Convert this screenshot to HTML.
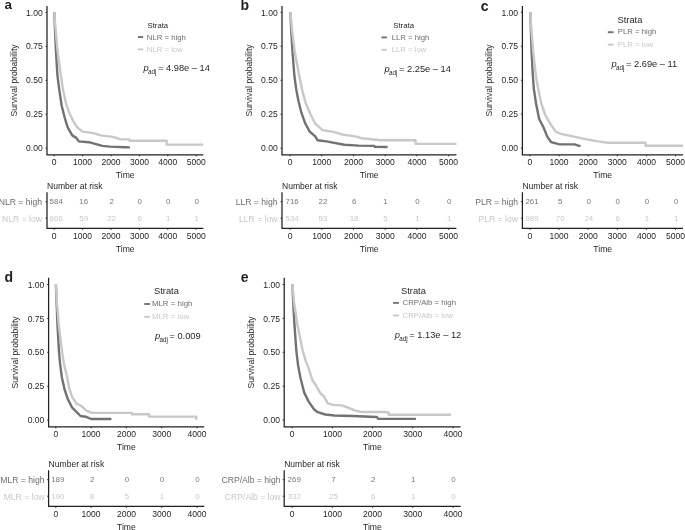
<!DOCTYPE html>
<html><head><meta charset="utf-8"><title>Survival curves</title>
<style>
html,body{margin:0;padding:0;background:#fff;}
svg{display:block;will-change:transform;filter:blur(0.4px);}
text{font-family:"Liberation Sans",sans-serif;}
</style></head><body>
<svg width="685" height="530" viewBox="0 0 685 530">
<rect x="0" y="0" width="685" height="530" fill="#ffffff"/>
<g><!-- panel a -->
<text x="4.4" y="9.2" font-size="13.4" font-weight="bold" fill="#231f20">a</text>
<polyline points="54.3,12.3 55.0,30.0 56.0,52.0 57.4,75.0 59.3,90.1 61.6,105.2 64.6,117.3 67.6,127.1 72.2,135.4 75.9,137.6 79.0,141.4 88.8,142.2 102.4,145.9 110.0,146.6 125.0,147.2 129.9,147.4" fill="none" stroke="#717275" stroke-width="2.4" stroke-linejoin="round" stroke-linecap="butt"/>
<polyline points="54.3,12.3 55.6,30.0 57.7,52.0 60.8,75.0 63.1,90.1 66.1,103.7 69.2,112.7 73.7,121.8 77.5,127.8 82.7,131.6 93.3,133.1 100.8,135.4 112.9,136.9 120.0,139.2 129.5,139.4 129.5,140.7 166.7,140.7 166.7,144.6 203.2,144.6" fill="none" stroke="#c7c8ca" stroke-width="2.4" stroke-linejoin="round" stroke-linecap="butt"/>
<path d="M47.0,6.0 V154.9 H203.3" fill="none" stroke="#231f20" stroke-width="1.25" stroke-linecap="butt" stroke-linejoin="miter"/>
<line x1="45.5" y1="12.4" x2="47.0" y2="12.4" stroke="#231f20" stroke-width="0.9"/>
<text x="42.7" y="15.5" font-size="8.55" text-anchor="end" fill="#231f20">1.00</text>
<line x1="45.5" y1="46.3" x2="47.0" y2="46.3" stroke="#231f20" stroke-width="0.9"/>
<text x="42.7" y="49.4" font-size="8.55" text-anchor="end" fill="#231f20">0.75</text>
<line x1="45.5" y1="80.3" x2="47.0" y2="80.3" stroke="#231f20" stroke-width="0.9"/>
<text x="42.7" y="83.4" font-size="8.55" text-anchor="end" fill="#231f20">0.50</text>
<line x1="45.5" y1="114.2" x2="47.0" y2="114.2" stroke="#231f20" stroke-width="0.9"/>
<text x="42.7" y="117.3" font-size="8.55" text-anchor="end" fill="#231f20">0.25</text>
<line x1="45.5" y1="148.2" x2="47.0" y2="148.2" stroke="#231f20" stroke-width="0.9"/>
<text x="42.7" y="151.3" font-size="8.55" text-anchor="end" fill="#231f20">0.00</text>
<line x1="54.2" y1="154.9" x2="54.2" y2="156.4" stroke="#231f20" stroke-width="0.9"/>
<text x="54.2" y="165.3" font-size="8.55" text-anchor="middle" fill="#231f20">0</text>
<line x1="82.6" y1="154.9" x2="82.6" y2="156.4" stroke="#231f20" stroke-width="0.9"/>
<text x="82.6" y="165.3" font-size="8.55" text-anchor="middle" fill="#231f20">1000</text>
<line x1="111.0" y1="154.9" x2="111.0" y2="156.4" stroke="#231f20" stroke-width="0.9"/>
<text x="111.0" y="165.3" font-size="8.55" text-anchor="middle" fill="#231f20">2000</text>
<line x1="139.4" y1="154.9" x2="139.4" y2="156.4" stroke="#231f20" stroke-width="0.9"/>
<text x="139.4" y="165.3" font-size="8.55" text-anchor="middle" fill="#231f20">3000</text>
<line x1="167.8" y1="154.9" x2="167.8" y2="156.4" stroke="#231f20" stroke-width="0.9"/>
<text x="167.8" y="165.3" font-size="8.55" text-anchor="middle" fill="#231f20">4000</text>
<line x1="196.2" y1="154.9" x2="196.2" y2="156.4" stroke="#231f20" stroke-width="0.9"/>
<text x="196.2" y="165.3" font-size="8.55" text-anchor="middle" fill="#231f20">5000</text>
<text x="125.2" y="178.2" font-size="8.6" text-anchor="middle" fill="#231f20">Time</text>
<text transform="translate(16.7,80.5) rotate(-90)" font-size="8.6" text-anchor="middle" fill="#231f20">Survival probability</text>
<text x="147.5" y="27.8" font-size="7.75" fill="#231f20">Strata</text>
<line x1="138.0" y1="37.0" x2="143.2" y2="37.0" stroke="#717275" stroke-width="1.9"/>
<line x1="138.0" y1="49.4" x2="143.2" y2="49.4" stroke="#c7c8ca" stroke-width="1.9"/>
<text x="146.8" y="39.6" font-size="7.75" fill="#6d6e71">NLR = high</text>
<text x="146.8" y="51.6" font-size="7.75" fill="#c7c8ca">NLR = low</text>
<text x="143.5" y="71.3" font-size="9.3" fill="#231f20"><tspan font-style="italic">p</tspan><tspan font-size="6.3" dy="2.9" dx="-0.6">adj</tspan><tspan dy="-2.9" dx="1.5">= 4.98e – 14</tspan></text>
<text x="47.0" y="188.9" font-size="8.55" fill="#231f20">Number at risk</text>
<path d="M47.0,192.3 V228.4 H203.3" fill="none" stroke="#231f20" stroke-width="1.25" stroke-linecap="butt" stroke-linejoin="miter"/>
<line x1="45.5" y1="201.7" x2="47.0" y2="201.7" stroke="#231f20" stroke-width="0.9"/>
<text x="42.0" y="205.0" font-size="8.6" text-anchor="end" fill="#6d6e71">NLR = high</text>
<text x="56.2" y="204.4" font-size="7.9" text-anchor="middle" fill="#77787b">584</text>
<text x="83.7" y="204.4" font-size="7.9" text-anchor="middle" fill="#77787b">16</text>
<text x="111.6" y="204.4" font-size="7.9" text-anchor="middle" fill="#77787b">2</text>
<text x="139.7" y="204.4" font-size="7.9" text-anchor="middle" fill="#77787b">0</text>
<text x="168.3" y="204.4" font-size="7.9" text-anchor="middle" fill="#77787b">0</text>
<text x="196.8" y="204.4" font-size="7.9" text-anchor="middle" fill="#77787b">0</text>
<line x1="45.5" y1="218.2" x2="47.0" y2="218.2" stroke="#231f20" stroke-width="0.9"/>
<text x="42.0" y="221.5" font-size="8.6" text-anchor="end" fill="#c7c8ca">NLR = low</text>
<text x="56.2" y="220.9" font-size="7.9" text-anchor="middle" fill="#c7c8ca">666</text>
<text x="83.7" y="220.9" font-size="7.9" text-anchor="middle" fill="#c7c8ca">59</text>
<text x="111.6" y="220.9" font-size="7.9" text-anchor="middle" fill="#c7c8ca">22</text>
<text x="139.7" y="220.9" font-size="7.9" text-anchor="middle" fill="#c7c8ca">6</text>
<text x="168.3" y="220.9" font-size="7.9" text-anchor="middle" fill="#c7c8ca">1</text>
<text x="196.8" y="220.9" font-size="7.9" text-anchor="middle" fill="#c7c8ca">1</text>
<line x1="54.2" y1="228.4" x2="54.2" y2="229.9" stroke="#231f20" stroke-width="0.9"/>
<text x="54.2" y="239.3" font-size="8.55" text-anchor="middle" fill="#231f20">0</text>
<line x1="82.6" y1="228.4" x2="82.6" y2="229.9" stroke="#231f20" stroke-width="0.9"/>
<text x="82.6" y="239.3" font-size="8.55" text-anchor="middle" fill="#231f20">1000</text>
<line x1="111.0" y1="228.4" x2="111.0" y2="229.9" stroke="#231f20" stroke-width="0.9"/>
<text x="111.0" y="239.3" font-size="8.55" text-anchor="middle" fill="#231f20">2000</text>
<line x1="139.4" y1="228.4" x2="139.4" y2="229.9" stroke="#231f20" stroke-width="0.9"/>
<text x="139.4" y="239.3" font-size="8.55" text-anchor="middle" fill="#231f20">3000</text>
<line x1="167.8" y1="228.4" x2="167.8" y2="229.9" stroke="#231f20" stroke-width="0.9"/>
<text x="167.8" y="239.3" font-size="8.55" text-anchor="middle" fill="#231f20">4000</text>
<line x1="196.2" y1="228.4" x2="196.2" y2="229.9" stroke="#231f20" stroke-width="0.9"/>
<text x="196.2" y="239.3" font-size="8.55" text-anchor="middle" fill="#231f20">5000</text>
<text x="125.2" y="251.8" font-size="8.6" text-anchor="middle" fill="#231f20">Time</text>
</g>
<g><!-- panel b -->
<text x="240.6" y="9.6" font-size="14" font-weight="bold" fill="#231f20">b</text>
<polyline points="290.4,12.0 291.2,30.0 292.5,52.0 294.3,75.0 296.1,88.6 298.4,100.7 301.4,112.7 305.2,123.3 309.7,131.6 315.0,136.1 317.5,140.2 326.3,141.4 344.4,144.7 358.8,145.6 374.2,145.9 374.8,146.9 387.6,147.0" fill="none" stroke="#717275" stroke-width="2.4" stroke-linejoin="round" stroke-linecap="butt"/>
<polyline points="290.4,12.0 292.0,30.0 294.8,52.0 299.1,75.0 302.2,90.1 305.9,103.7 310.5,114.2 315.0,123.3 322.5,130.1 332.3,131.6 342.9,134.6 358.0,136.9 361.5,138.3 381.0,140.3 415.6,140.3 415.6,143.9 456.4,143.9" fill="none" stroke="#c7c8ca" stroke-width="2.4" stroke-linejoin="round" stroke-linecap="butt"/>
<path d="M282.0,6.0 V154.9 H456.4" fill="none" stroke="#231f20" stroke-width="1.25" stroke-linecap="butt" stroke-linejoin="miter"/>
<line x1="280.5" y1="12.4" x2="282.0" y2="12.4" stroke="#231f20" stroke-width="0.9"/>
<text x="277.7" y="15.5" font-size="8.55" text-anchor="end" fill="#231f20">1.00</text>
<line x1="280.5" y1="46.3" x2="282.0" y2="46.3" stroke="#231f20" stroke-width="0.9"/>
<text x="277.7" y="49.4" font-size="8.55" text-anchor="end" fill="#231f20">0.75</text>
<line x1="280.5" y1="80.3" x2="282.0" y2="80.3" stroke="#231f20" stroke-width="0.9"/>
<text x="277.7" y="83.4" font-size="8.55" text-anchor="end" fill="#231f20">0.50</text>
<line x1="280.5" y1="114.2" x2="282.0" y2="114.2" stroke="#231f20" stroke-width="0.9"/>
<text x="277.7" y="117.3" font-size="8.55" text-anchor="end" fill="#231f20">0.25</text>
<line x1="280.5" y1="148.2" x2="282.0" y2="148.2" stroke="#231f20" stroke-width="0.9"/>
<text x="277.7" y="151.3" font-size="8.55" text-anchor="end" fill="#231f20">0.00</text>
<line x1="290.1" y1="154.9" x2="290.1" y2="156.4" stroke="#231f20" stroke-width="0.9"/>
<text x="290.1" y="165.3" font-size="8.55" text-anchor="middle" fill="#231f20">0</text>
<line x1="321.8" y1="154.9" x2="321.8" y2="156.4" stroke="#231f20" stroke-width="0.9"/>
<text x="321.8" y="165.3" font-size="8.55" text-anchor="middle" fill="#231f20">1000</text>
<line x1="353.5" y1="154.9" x2="353.5" y2="156.4" stroke="#231f20" stroke-width="0.9"/>
<text x="353.5" y="165.3" font-size="8.55" text-anchor="middle" fill="#231f20">2000</text>
<line x1="385.2" y1="154.9" x2="385.2" y2="156.4" stroke="#231f20" stroke-width="0.9"/>
<text x="385.2" y="165.3" font-size="8.55" text-anchor="middle" fill="#231f20">3000</text>
<line x1="416.9" y1="154.9" x2="416.9" y2="156.4" stroke="#231f20" stroke-width="0.9"/>
<text x="416.9" y="165.3" font-size="8.55" text-anchor="middle" fill="#231f20">4000</text>
<line x1="448.6" y1="154.9" x2="448.6" y2="156.4" stroke="#231f20" stroke-width="0.9"/>
<text x="448.6" y="165.3" font-size="8.55" text-anchor="middle" fill="#231f20">5000</text>
<text x="369.2" y="178.2" font-size="8.6" text-anchor="middle" fill="#231f20">Time</text>
<text transform="translate(251.7,80.5) rotate(-90)" font-size="8.6" text-anchor="middle" fill="#231f20">Survival probability</text>
<text x="393.3" y="28.2" font-size="7.75" fill="#231f20">Strata</text>
<line x1="381.5" y1="37.4" x2="386.9" y2="37.4" stroke="#717275" stroke-width="1.9"/>
<line x1="381.5" y1="49.8" x2="386.9" y2="49.8" stroke="#c7c8ca" stroke-width="1.9"/>
<text x="391.7" y="39.9" font-size="7.75" fill="#6d6e71">LLR = high</text>
<text x="391.7" y="51.9" font-size="7.75" fill="#c7c8ca">LLR = low</text>
<text x="384.5" y="72.0" font-size="9.3" fill="#231f20"><tspan font-style="italic">p</tspan><tspan font-size="6.3" dy="2.9" dx="-0.6">adj</tspan><tspan dy="-2.9" dx="1.5">= 2.25e – 14</tspan></text>
<text x="282.0" y="188.9" font-size="8.55" fill="#231f20">Number at risk</text>
<path d="M282.0,192.3 V228.4 H456.4" fill="none" stroke="#231f20" stroke-width="1.25" stroke-linecap="butt" stroke-linejoin="miter"/>
<line x1="280.5" y1="201.7" x2="282.0" y2="201.7" stroke="#231f20" stroke-width="0.9"/>
<text x="277.5" y="205.0" font-size="8.6" text-anchor="end" fill="#6d6e71">LLR = high</text>
<text x="292.1" y="204.4" font-size="7.9" text-anchor="middle" fill="#77787b">716</text>
<text x="322.9" y="204.4" font-size="7.9" text-anchor="middle" fill="#77787b">22</text>
<text x="354.1" y="204.4" font-size="7.9" text-anchor="middle" fill="#77787b">6</text>
<text x="385.5" y="204.4" font-size="7.9" text-anchor="middle" fill="#77787b">1</text>
<text x="417.4" y="204.4" font-size="7.9" text-anchor="middle" fill="#77787b">0</text>
<text x="449.2" y="204.4" font-size="7.9" text-anchor="middle" fill="#77787b">0</text>
<line x1="280.5" y1="218.2" x2="282.0" y2="218.2" stroke="#231f20" stroke-width="0.9"/>
<text x="277.5" y="221.5" font-size="8.6" text-anchor="end" fill="#c7c8ca">LLR = low</text>
<text x="292.1" y="220.9" font-size="7.9" text-anchor="middle" fill="#c7c8ca">534</text>
<text x="322.9" y="220.9" font-size="7.9" text-anchor="middle" fill="#c7c8ca">53</text>
<text x="354.1" y="220.9" font-size="7.9" text-anchor="middle" fill="#c7c8ca">18</text>
<text x="385.5" y="220.9" font-size="7.9" text-anchor="middle" fill="#c7c8ca">5</text>
<text x="417.4" y="220.9" font-size="7.9" text-anchor="middle" fill="#c7c8ca">1</text>
<text x="449.2" y="220.9" font-size="7.9" text-anchor="middle" fill="#c7c8ca">1</text>
<line x1="290.1" y1="228.4" x2="290.1" y2="229.9" stroke="#231f20" stroke-width="0.9"/>
<text x="290.1" y="239.3" font-size="8.55" text-anchor="middle" fill="#231f20">0</text>
<line x1="321.8" y1="228.4" x2="321.8" y2="229.9" stroke="#231f20" stroke-width="0.9"/>
<text x="321.8" y="239.3" font-size="8.55" text-anchor="middle" fill="#231f20">1000</text>
<line x1="353.5" y1="228.4" x2="353.5" y2="229.9" stroke="#231f20" stroke-width="0.9"/>
<text x="353.5" y="239.3" font-size="8.55" text-anchor="middle" fill="#231f20">2000</text>
<line x1="385.2" y1="228.4" x2="385.2" y2="229.9" stroke="#231f20" stroke-width="0.9"/>
<text x="385.2" y="239.3" font-size="8.55" text-anchor="middle" fill="#231f20">3000</text>
<line x1="416.9" y1="228.4" x2="416.9" y2="229.9" stroke="#231f20" stroke-width="0.9"/>
<text x="416.9" y="239.3" font-size="8.55" text-anchor="middle" fill="#231f20">4000</text>
<line x1="448.6" y1="228.4" x2="448.6" y2="229.9" stroke="#231f20" stroke-width="0.9"/>
<text x="448.6" y="239.3" font-size="8.55" text-anchor="middle" fill="#231f20">5000</text>
<text x="369.2" y="251.8" font-size="8.6" text-anchor="middle" fill="#231f20">Time</text>
</g>
<g><!-- panel c -->
<text x="480.7" y="10.5" font-size="14" font-weight="bold" fill="#231f20">c</text>
<polyline points="530.4,12.0 530.9,30.0 531.6,52.0 532.8,75.0 533.8,88.6 536.1,103.7 539.1,118.8 543.7,127.8 547.4,136.9 551.2,142.2 559.5,144.4 574.6,144.4 579.9,146.2 580.2,146.7" fill="none" stroke="#717275" stroke-width="2.4" stroke-linejoin="round" stroke-linecap="butt"/>
<polyline points="530.4,12.0 531.4,30.0 533.2,52.0 535.8,75.0 538.4,90.1 541.4,103.7 545.2,115.0 550.5,124.1 555.7,131.6 561.0,133.9 578.4,137.6 588.9,139.8 598.0,141.4 608.0,142.7 645.6,142.6 645.6,145.7 683.0,145.7" fill="none" stroke="#c7c8ca" stroke-width="2.4" stroke-linejoin="round" stroke-linecap="butt"/>
<path d="M522.4,6.0 V154.9 H683.0" fill="none" stroke="#231f20" stroke-width="1.25" stroke-linecap="butt" stroke-linejoin="miter"/>
<line x1="520.9" y1="12.4" x2="522.4" y2="12.4" stroke="#231f20" stroke-width="0.9"/>
<text x="518.1" y="15.5" font-size="8.55" text-anchor="end" fill="#231f20">1.00</text>
<line x1="520.9" y1="46.3" x2="522.4" y2="46.3" stroke="#231f20" stroke-width="0.9"/>
<text x="518.1" y="49.4" font-size="8.55" text-anchor="end" fill="#231f20">0.75</text>
<line x1="520.9" y1="80.3" x2="522.4" y2="80.3" stroke="#231f20" stroke-width="0.9"/>
<text x="518.1" y="83.4" font-size="8.55" text-anchor="end" fill="#231f20">0.50</text>
<line x1="520.9" y1="114.2" x2="522.4" y2="114.2" stroke="#231f20" stroke-width="0.9"/>
<text x="518.1" y="117.3" font-size="8.55" text-anchor="end" fill="#231f20">0.25</text>
<line x1="520.9" y1="148.2" x2="522.4" y2="148.2" stroke="#231f20" stroke-width="0.9"/>
<text x="518.1" y="151.3" font-size="8.55" text-anchor="end" fill="#231f20">0.00</text>
<line x1="530.0" y1="154.9" x2="530.0" y2="156.4" stroke="#231f20" stroke-width="0.9"/>
<text x="530.0" y="165.3" font-size="8.55" text-anchor="middle" fill="#231f20">0</text>
<line x1="559.1" y1="154.9" x2="559.1" y2="156.4" stroke="#231f20" stroke-width="0.9"/>
<text x="559.1" y="165.3" font-size="8.55" text-anchor="middle" fill="#231f20">1000</text>
<line x1="588.2" y1="154.9" x2="588.2" y2="156.4" stroke="#231f20" stroke-width="0.9"/>
<text x="588.2" y="165.3" font-size="8.55" text-anchor="middle" fill="#231f20">2000</text>
<line x1="617.3" y1="154.9" x2="617.3" y2="156.4" stroke="#231f20" stroke-width="0.9"/>
<text x="617.3" y="165.3" font-size="8.55" text-anchor="middle" fill="#231f20">3000</text>
<line x1="646.4" y1="154.9" x2="646.4" y2="156.4" stroke="#231f20" stroke-width="0.9"/>
<text x="646.4" y="165.3" font-size="8.55" text-anchor="middle" fill="#231f20">4000</text>
<line x1="675.5" y1="154.9" x2="675.5" y2="156.4" stroke="#231f20" stroke-width="0.9"/>
<text x="675.5" y="165.3" font-size="8.55" text-anchor="middle" fill="#231f20">5000</text>
<text x="602.7" y="178.2" font-size="8.6" text-anchor="middle" fill="#231f20">Time</text>
<text transform="translate(492.1,80.5) rotate(-90)" font-size="8.6" text-anchor="middle" fill="#231f20">Survival probability</text>
<text x="617.5" y="22.8" font-size="9.3" fill="#231f20">Strata</text>
<line x1="607.8" y1="32.2" x2="613.6" y2="32.2" stroke="#717275" stroke-width="1.9"/>
<line x1="607.8" y1="44.6" x2="613.6" y2="44.6" stroke="#c7c8ca" stroke-width="1.9"/>
<text x="617.8" y="34.3" font-size="7.75" fill="#6d6e71">PLR = high</text>
<text x="617.8" y="47.4" font-size="7.75" fill="#c7c8ca">PLR = low</text>
<text x="611.5" y="67.0" font-size="9.3" fill="#231f20"><tspan font-style="italic">p</tspan><tspan font-size="6.3" dy="2.9" dx="-0.6">adj</tspan><tspan dy="-2.9" dx="1.5">= 2.69e – 11</tspan></text>
<text x="522.4" y="188.9" font-size="8.55" fill="#231f20">Number at risk</text>
<path d="M522.4,192.3 V228.4 H683.0" fill="none" stroke="#231f20" stroke-width="1.25" stroke-linecap="butt" stroke-linejoin="miter"/>
<line x1="520.9" y1="201.7" x2="522.4" y2="201.7" stroke="#231f20" stroke-width="0.9"/>
<text x="518.0" y="205.0" font-size="8.6" text-anchor="end" fill="#6d6e71">PLR = high</text>
<text x="532.0" y="204.4" font-size="7.9" text-anchor="middle" fill="#77787b">261</text>
<text x="560.2" y="204.4" font-size="7.9" text-anchor="middle" fill="#77787b">5</text>
<text x="588.8" y="204.4" font-size="7.9" text-anchor="middle" fill="#77787b">0</text>
<text x="617.6" y="204.4" font-size="7.9" text-anchor="middle" fill="#77787b">0</text>
<text x="646.9" y="204.4" font-size="7.9" text-anchor="middle" fill="#77787b">0</text>
<text x="676.1" y="204.4" font-size="7.9" text-anchor="middle" fill="#77787b">0</text>
<line x1="520.9" y1="218.2" x2="522.4" y2="218.2" stroke="#231f20" stroke-width="0.9"/>
<text x="518.0" y="221.5" font-size="8.6" text-anchor="end" fill="#c7c8ca">PLR = low</text>
<text x="532.0" y="220.9" font-size="7.9" text-anchor="middle" fill="#c7c8ca">989</text>
<text x="560.2" y="220.9" font-size="7.9" text-anchor="middle" fill="#c7c8ca">70</text>
<text x="588.8" y="220.9" font-size="7.9" text-anchor="middle" fill="#c7c8ca">24</text>
<text x="617.6" y="220.9" font-size="7.9" text-anchor="middle" fill="#c7c8ca">6</text>
<text x="646.9" y="220.9" font-size="7.9" text-anchor="middle" fill="#c7c8ca">1</text>
<text x="676.1" y="220.9" font-size="7.9" text-anchor="middle" fill="#c7c8ca">1</text>
<line x1="530.0" y1="228.4" x2="530.0" y2="229.9" stroke="#231f20" stroke-width="0.9"/>
<text x="530.0" y="239.3" font-size="8.55" text-anchor="middle" fill="#231f20">0</text>
<line x1="559.1" y1="228.4" x2="559.1" y2="229.9" stroke="#231f20" stroke-width="0.9"/>
<text x="559.1" y="239.3" font-size="8.55" text-anchor="middle" fill="#231f20">1000</text>
<line x1="588.2" y1="228.4" x2="588.2" y2="229.9" stroke="#231f20" stroke-width="0.9"/>
<text x="588.2" y="239.3" font-size="8.55" text-anchor="middle" fill="#231f20">2000</text>
<line x1="617.3" y1="228.4" x2="617.3" y2="229.9" stroke="#231f20" stroke-width="0.9"/>
<text x="617.3" y="239.3" font-size="8.55" text-anchor="middle" fill="#231f20">3000</text>
<line x1="646.4" y1="228.4" x2="646.4" y2="229.9" stroke="#231f20" stroke-width="0.9"/>
<text x="646.4" y="239.3" font-size="8.55" text-anchor="middle" fill="#231f20">4000</text>
<line x1="675.5" y1="228.4" x2="675.5" y2="229.9" stroke="#231f20" stroke-width="0.9"/>
<text x="675.5" y="239.3" font-size="8.55" text-anchor="middle" fill="#231f20">5000</text>
<text x="602.7" y="251.8" font-size="8.6" text-anchor="middle" fill="#231f20">Time</text>
</g>
<g><!-- panel d -->
<text x="4.6" y="281.6" font-size="14" font-weight="bold" fill="#231f20">d</text>
<polyline points="55.9,284.5 56.6,302.3 57.5,325.3 58.9,350.3 60.1,363.9 61.9,377.5 64.6,389.5 67.6,398.6 72.2,407.7 76.7,412.2 80.5,416.0 85.8,416.7 91.0,419.0 111.4,419.0" fill="none" stroke="#717275" stroke-width="2.4" stroke-linejoin="round" stroke-linecap="butt"/>
<polyline points="55.9,284.5 57.0,302.3 58.8,325.3 61.9,350.3 63.9,363.9 66.9,376.0 69.2,388.0 72.2,397.1 76.7,403.9 80.5,405.4 86.5,410.7 91.8,412.9 132.0,412.9 132.0,414.2 149.0,414.2 149.0,416.6 196.3,416.6 196.3,419.7" fill="none" stroke="#c7c8ca" stroke-width="2.4" stroke-linejoin="round" stroke-linecap="butt"/>
<path d="M48.6,277.8 V426.9 H204.2" fill="none" stroke="#231f20" stroke-width="1.25" stroke-linecap="butt" stroke-linejoin="miter"/>
<line x1="47.1" y1="284.5" x2="48.6" y2="284.5" stroke="#231f20" stroke-width="0.9"/>
<text x="44.3" y="287.6" font-size="8.55" text-anchor="end" fill="#231f20">1.00</text>
<line x1="47.1" y1="318.4" x2="48.6" y2="318.4" stroke="#231f20" stroke-width="0.9"/>
<text x="44.3" y="321.5" font-size="8.55" text-anchor="end" fill="#231f20">0.75</text>
<line x1="47.1" y1="352.3" x2="48.6" y2="352.3" stroke="#231f20" stroke-width="0.9"/>
<text x="44.3" y="355.4" font-size="8.55" text-anchor="end" fill="#231f20">0.50</text>
<line x1="47.1" y1="386.2" x2="48.6" y2="386.2" stroke="#231f20" stroke-width="0.9"/>
<text x="44.3" y="389.3" font-size="8.55" text-anchor="end" fill="#231f20">0.25</text>
<line x1="47.1" y1="420.1" x2="48.6" y2="420.1" stroke="#231f20" stroke-width="0.9"/>
<text x="44.3" y="423.2" font-size="8.55" text-anchor="end" fill="#231f20">0.00</text>
<line x1="55.8" y1="426.9" x2="55.8" y2="428.4" stroke="#231f20" stroke-width="0.9"/>
<text x="55.8" y="437.3" font-size="8.55" text-anchor="middle" fill="#231f20">0</text>
<line x1="91.1" y1="426.9" x2="91.1" y2="428.4" stroke="#231f20" stroke-width="0.9"/>
<text x="91.1" y="437.3" font-size="8.55" text-anchor="middle" fill="#231f20">1000</text>
<line x1="126.4" y1="426.9" x2="126.4" y2="428.4" stroke="#231f20" stroke-width="0.9"/>
<text x="126.4" y="437.3" font-size="8.55" text-anchor="middle" fill="#231f20">2000</text>
<line x1="161.7" y1="426.9" x2="161.7" y2="428.4" stroke="#231f20" stroke-width="0.9"/>
<text x="161.7" y="437.3" font-size="8.55" text-anchor="middle" fill="#231f20">3000</text>
<line x1="197.0" y1="426.9" x2="197.0" y2="428.4" stroke="#231f20" stroke-width="0.9"/>
<text x="197.0" y="437.3" font-size="8.55" text-anchor="middle" fill="#231f20">4000</text>
<text x="126.4" y="450.2" font-size="8.6" text-anchor="middle" fill="#231f20">Time</text>
<text transform="translate(18.3,352.4) rotate(-90)" font-size="8.6" text-anchor="middle" fill="#231f20">Survival probability</text>
<text x="154.0" y="294.1" font-size="9.3" fill="#231f20">Strata</text>
<line x1="144.2" y1="304.0" x2="150.0" y2="304.0" stroke="#717275" stroke-width="1.9"/>
<line x1="144.2" y1="316.8" x2="150.0" y2="316.8" stroke="#c7c8ca" stroke-width="1.9"/>
<text x="151.9" y="306.4" font-size="7.9" fill="#6d6e71">MLR = high</text>
<text x="151.9" y="319.2" font-size="7.9" fill="#c7c8ca">MLR = low</text>
<text x="154.9" y="338.8" font-size="9.3" fill="#231f20"><tspan font-style="italic">p</tspan><tspan font-size="6.3" dy="2.9" dx="-0.6">adj</tspan><tspan dy="-2.9" dx="1.5">= 0.009</tspan></text>
<text x="48.6" y="466.9" font-size="8.55" fill="#231f20">Number at risk</text>
<path d="M48.6,470.3 V506.4 H204.2" fill="none" stroke="#231f20" stroke-width="1.25" stroke-linecap="butt" stroke-linejoin="miter"/>
<line x1="47.1" y1="479.7" x2="48.6" y2="479.7" stroke="#231f20" stroke-width="0.9"/>
<text x="44.5" y="483.0" font-size="8.6" text-anchor="end" fill="#6d6e71">MLR = high</text>
<text x="57.8" y="482.4" font-size="7.9" text-anchor="middle" fill="#77787b">189</text>
<text x="92.2" y="482.4" font-size="7.9" text-anchor="middle" fill="#77787b">2</text>
<text x="127.0" y="482.4" font-size="7.9" text-anchor="middle" fill="#77787b">0</text>
<text x="162.0" y="482.4" font-size="7.9" text-anchor="middle" fill="#77787b">0</text>
<text x="197.5" y="482.4" font-size="7.9" text-anchor="middle" fill="#77787b">0</text>
<line x1="47.1" y1="496.2" x2="48.6" y2="496.2" stroke="#231f20" stroke-width="0.9"/>
<text x="44.5" y="499.5" font-size="8.6" text-anchor="end" fill="#c7c8ca">MLR = low</text>
<text x="57.8" y="498.9" font-size="7.9" text-anchor="middle" fill="#c7c8ca">190</text>
<text x="92.2" y="498.9" font-size="7.9" text-anchor="middle" fill="#c7c8ca">8</text>
<text x="127.0" y="498.9" font-size="7.9" text-anchor="middle" fill="#c7c8ca">5</text>
<text x="162.0" y="498.9" font-size="7.9" text-anchor="middle" fill="#c7c8ca">1</text>
<text x="197.5" y="498.9" font-size="7.9" text-anchor="middle" fill="#c7c8ca">0</text>
<line x1="55.8" y1="506.4" x2="55.8" y2="507.9" stroke="#231f20" stroke-width="0.9"/>
<text x="55.8" y="517.3" font-size="8.55" text-anchor="middle" fill="#231f20">0</text>
<line x1="91.1" y1="506.4" x2="91.1" y2="507.9" stroke="#231f20" stroke-width="0.9"/>
<text x="91.1" y="517.3" font-size="8.55" text-anchor="middle" fill="#231f20">1000</text>
<line x1="126.4" y1="506.4" x2="126.4" y2="507.9" stroke="#231f20" stroke-width="0.9"/>
<text x="126.4" y="517.3" font-size="8.55" text-anchor="middle" fill="#231f20">2000</text>
<line x1="161.7" y1="506.4" x2="161.7" y2="507.9" stroke="#231f20" stroke-width="0.9"/>
<text x="161.7" y="517.3" font-size="8.55" text-anchor="middle" fill="#231f20">3000</text>
<line x1="197.0" y1="506.4" x2="197.0" y2="507.9" stroke="#231f20" stroke-width="0.9"/>
<text x="197.0" y="517.3" font-size="8.55" text-anchor="middle" fill="#231f20">4000</text>
<text x="126.4" y="529.8" font-size="8.6" text-anchor="middle" fill="#231f20">Time</text>
</g>
<g><!-- panel e -->
<text x="240.7" y="281.9" font-size="14" font-weight="bold" fill="#231f20">e</text>
<polyline points="292.4,284.5 293.2,302.3 294.5,325.3 296.3,350.3 298.1,365.4 300.4,377.5 304.2,392.6 308.7,401.6 314.0,409.2 317.7,412.2 325.3,414.5 334.3,415.5 352.5,416.0 376.8,417.0 378.2,418.9 415.9,418.9" fill="none" stroke="#717275" stroke-width="2.4" stroke-linejoin="round" stroke-linecap="butt"/>
<polyline points="292.4,284.5 294.0,302.3 297.5,325.3 302.6,350.3 305.7,360.9 309.4,370.7 312.5,380.5 316.2,385.8 320.0,392.6 324.5,397.1 327.5,403.1 332.8,404.9 341.9,405.4 347.9,407.7 355.5,410.7 361.5,412.0 384.0,412.0 388.6,412.5 388.8,414.8 451.0,414.8" fill="none" stroke="#c7c8ca" stroke-width="2.4" stroke-linejoin="round" stroke-linecap="butt"/>
<path d="M284.2,277.8 V426.9 H460.6" fill="none" stroke="#231f20" stroke-width="1.25" stroke-linecap="butt" stroke-linejoin="miter"/>
<line x1="282.7" y1="284.5" x2="284.2" y2="284.5" stroke="#231f20" stroke-width="0.9"/>
<text x="279.9" y="287.6" font-size="8.55" text-anchor="end" fill="#231f20">1.00</text>
<line x1="282.7" y1="318.4" x2="284.2" y2="318.4" stroke="#231f20" stroke-width="0.9"/>
<text x="279.9" y="321.5" font-size="8.55" text-anchor="end" fill="#231f20">0.75</text>
<line x1="282.7" y1="352.3" x2="284.2" y2="352.3" stroke="#231f20" stroke-width="0.9"/>
<text x="279.9" y="355.4" font-size="8.55" text-anchor="end" fill="#231f20">0.50</text>
<line x1="282.7" y1="386.2" x2="284.2" y2="386.2" stroke="#231f20" stroke-width="0.9"/>
<text x="279.9" y="389.3" font-size="8.55" text-anchor="end" fill="#231f20">0.25</text>
<line x1="282.7" y1="420.1" x2="284.2" y2="420.1" stroke="#231f20" stroke-width="0.9"/>
<text x="279.9" y="423.2" font-size="8.55" text-anchor="end" fill="#231f20">0.00</text>
<line x1="292.2" y1="426.9" x2="292.2" y2="428.4" stroke="#231f20" stroke-width="0.9"/>
<text x="292.2" y="437.3" font-size="8.55" text-anchor="middle" fill="#231f20">0</text>
<line x1="332.4" y1="426.9" x2="332.4" y2="428.4" stroke="#231f20" stroke-width="0.9"/>
<text x="332.4" y="437.3" font-size="8.55" text-anchor="middle" fill="#231f20">1000</text>
<line x1="372.6" y1="426.9" x2="372.6" y2="428.4" stroke="#231f20" stroke-width="0.9"/>
<text x="372.6" y="437.3" font-size="8.55" text-anchor="middle" fill="#231f20">2000</text>
<line x1="412.8" y1="426.9" x2="412.8" y2="428.4" stroke="#231f20" stroke-width="0.9"/>
<text x="412.8" y="437.3" font-size="8.55" text-anchor="middle" fill="#231f20">3000</text>
<line x1="453.0" y1="426.9" x2="453.0" y2="428.4" stroke="#231f20" stroke-width="0.9"/>
<text x="453.0" y="437.3" font-size="8.55" text-anchor="middle" fill="#231f20">4000</text>
<text x="372.4" y="450.2" font-size="8.6" text-anchor="middle" fill="#231f20">Time</text>
<text transform="translate(253.9,352.4) rotate(-90)" font-size="8.6" text-anchor="middle" fill="#231f20">Survival probability</text>
<text x="401.0" y="294.1" font-size="9.3" fill="#231f20">Strata</text>
<line x1="393.1" y1="302.9" x2="398.9" y2="302.9" stroke="#717275" stroke-width="1.9"/>
<line x1="393.1" y1="315.4" x2="398.9" y2="315.4" stroke="#c7c8ca" stroke-width="1.9"/>
<text x="402.5" y="304.9" font-size="7.8" fill="#6d6e71">CRP/Alb = high</text>
<text x="402.5" y="318.0" font-size="7.8" fill="#c7c8ca">CRP/Alb = low</text>
<text x="394.8" y="337.7" font-size="9.3" fill="#231f20"><tspan font-style="italic">p</tspan><tspan font-size="6.3" dy="2.9" dx="-0.6">adj</tspan><tspan dy="-2.9" dx="1.5">= 1.13e – 12</tspan></text>
<text x="284.2" y="466.9" font-size="8.55" fill="#231f20">Number at risk</text>
<path d="M284.2,470.3 V506.4 H460.6" fill="none" stroke="#231f20" stroke-width="1.25" stroke-linecap="butt" stroke-linejoin="miter"/>
<line x1="282.7" y1="479.7" x2="284.2" y2="479.7" stroke="#231f20" stroke-width="0.9"/>
<text x="280.5" y="483.0" font-size="8.6" text-anchor="end" fill="#6d6e71">CRP/Alb = high</text>
<text x="294.2" y="482.4" font-size="7.9" text-anchor="middle" fill="#77787b">269</text>
<text x="333.5" y="482.4" font-size="7.9" text-anchor="middle" fill="#77787b">7</text>
<text x="373.2" y="482.4" font-size="7.9" text-anchor="middle" fill="#77787b">2</text>
<text x="413.1" y="482.4" font-size="7.9" text-anchor="middle" fill="#77787b">1</text>
<text x="453.5" y="482.4" font-size="7.9" text-anchor="middle" fill="#77787b">0</text>
<line x1="282.7" y1="496.2" x2="284.2" y2="496.2" stroke="#231f20" stroke-width="0.9"/>
<text x="280.5" y="499.5" font-size="8.6" text-anchor="end" fill="#c7c8ca">CRP/Alb = low</text>
<text x="294.2" y="498.9" font-size="7.9" text-anchor="middle" fill="#c7c8ca">332</text>
<text x="333.5" y="498.9" font-size="7.9" text-anchor="middle" fill="#c7c8ca">25</text>
<text x="373.2" y="498.9" font-size="7.9" text-anchor="middle" fill="#c7c8ca">6</text>
<text x="413.1" y="498.9" font-size="7.9" text-anchor="middle" fill="#c7c8ca">1</text>
<text x="453.5" y="498.9" font-size="7.9" text-anchor="middle" fill="#c7c8ca">0</text>
<line x1="292.2" y1="506.4" x2="292.2" y2="507.9" stroke="#231f20" stroke-width="0.9"/>
<text x="292.2" y="517.3" font-size="8.55" text-anchor="middle" fill="#231f20">0</text>
<line x1="332.4" y1="506.4" x2="332.4" y2="507.9" stroke="#231f20" stroke-width="0.9"/>
<text x="332.4" y="517.3" font-size="8.55" text-anchor="middle" fill="#231f20">1000</text>
<line x1="372.6" y1="506.4" x2="372.6" y2="507.9" stroke="#231f20" stroke-width="0.9"/>
<text x="372.6" y="517.3" font-size="8.55" text-anchor="middle" fill="#231f20">2000</text>
<line x1="412.8" y1="506.4" x2="412.8" y2="507.9" stroke="#231f20" stroke-width="0.9"/>
<text x="412.8" y="517.3" font-size="8.55" text-anchor="middle" fill="#231f20">3000</text>
<line x1="453.0" y1="506.4" x2="453.0" y2="507.9" stroke="#231f20" stroke-width="0.9"/>
<text x="453.0" y="517.3" font-size="8.55" text-anchor="middle" fill="#231f20">4000</text>
<text x="372.4" y="529.8" font-size="8.6" text-anchor="middle" fill="#231f20">Time</text>
</g>
</svg>
</body></html>
